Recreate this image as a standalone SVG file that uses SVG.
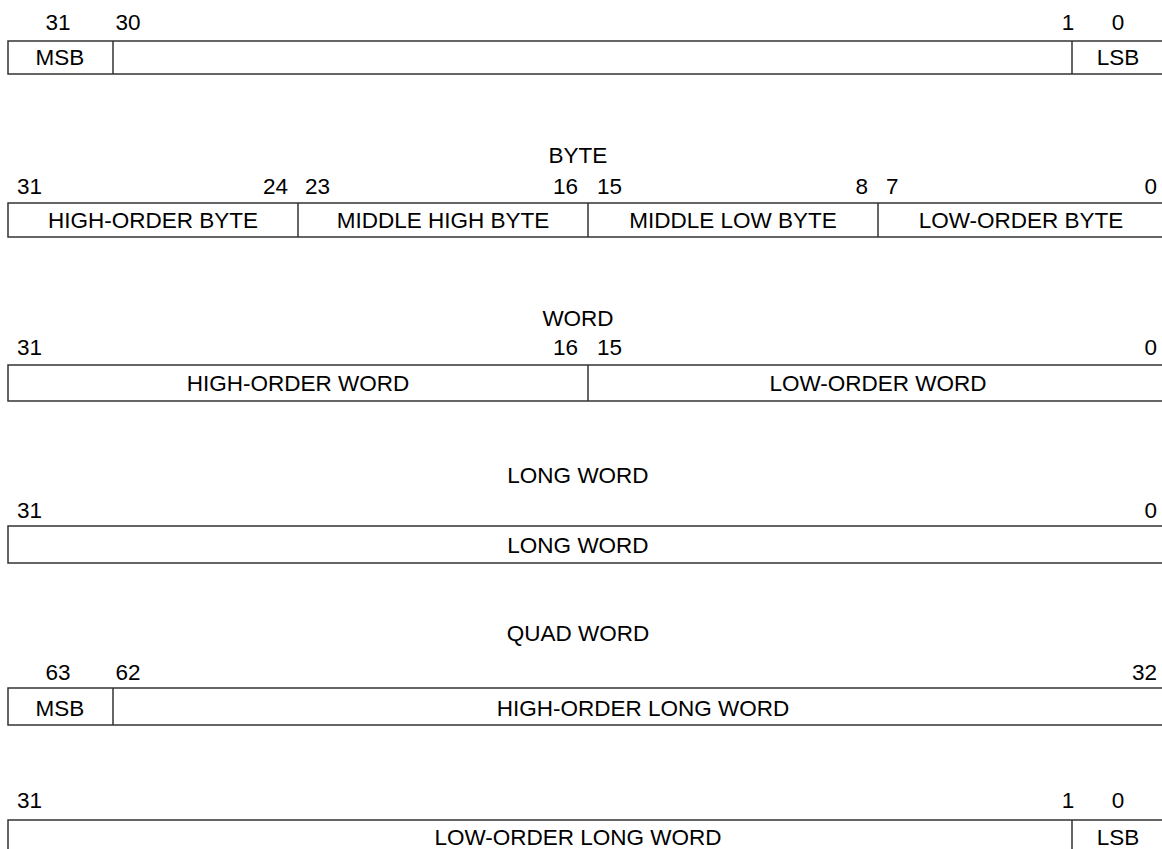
<svg xmlns="http://www.w3.org/2000/svg" width="1162" height="849" viewBox="0 0 1162 849">
<style>
text{font-family:"Liberation Sans",Arial,sans-serif;font-size:22.5px;fill:#000}
.c{text-anchor:middle}
.e{text-anchor:end}
.box{fill:#fff;stroke:#333;stroke-width:1.5}
.div{stroke:#333;stroke-width:1.5}
</style>
<rect width="1162" height="849" fill="#fff"/>
<g id="bit">
<text x="58" y="30" class="c">31</text>
<text x="128" y="30" class="c">30</text>
<text x="1068" y="30" class="c">1</text>
<text x="1118" y="30" class="c">0</text>
<rect class="box" x="8" y="41" width="1160" height="33"/>
<line class="div" x1="113" y1="41" x2="113" y2="74"/>
<line class="div" x1="1072" y1="41" x2="1072" y2="74"/>
<text x="60" y="65" class="c">MSB</text>
<text x="1118" y="65" class="c">LSB</text>
</g>
<g id="byte">
<text x="578" y="163" class="c">BYTE</text>
<text x="17" y="194">31</text>
<text x="288" y="194" class="e">24</text>
<text x="305" y="194">23</text>
<text x="578" y="194" class="e">16</text>
<text x="597" y="194">15</text>
<text x="868" y="194" class="e">8</text>
<text x="886" y="194">7</text>
<text x="1157" y="194" class="e">0</text>
<rect class="box" x="8" y="203" width="1160" height="34"/>
<line class="div" x1="298" y1="203" x2="298" y2="237"/>
<line class="div" x1="588" y1="203" x2="588" y2="237"/>
<line class="div" x1="878" y1="203" x2="878" y2="237"/>
<text x="153" y="228" class="c">HIGH-ORDER BYTE</text>
<text x="443" y="228" class="c">MIDDLE HIGH BYTE</text>
<text x="733" y="228" class="c">MIDDLE LOW BYTE</text>
<text x="1021" y="228" class="c">LOW-ORDER BYTE</text>
</g>
<g id="word">
<text x="578" y="326" class="c">WORD</text>
<text x="17" y="355">31</text>
<text x="578" y="355" class="e">16</text>
<text x="597" y="355">15</text>
<text x="1157" y="355" class="e">0</text>
<rect class="box" x="8" y="365" width="1160" height="36"/>
<line class="div" x1="588" y1="365" x2="588" y2="401"/>
<text x="298" y="391" class="c">HIGH-ORDER WORD</text>
<text x="878" y="391" class="c">LOW-ORDER WORD</text>
</g>
<g id="longword">
<text x="578" y="483" class="c">LONG WORD</text>
<text x="17" y="518">31</text>
<text x="1157" y="518" class="e">0</text>
<rect class="box" x="8" y="526" width="1160" height="37"/>
<text x="578" y="553" class="c">LONG WORD</text>
</g>
<g id="quadword-high">
<text x="578" y="641" class="c">QUAD WORD</text>
<text x="58" y="680" class="c">63</text>
<text x="128" y="680" class="c">62</text>
<text x="1157" y="680" class="e">32</text>
<rect class="box" x="8" y="688" width="1160" height="37"/>
<line class="div" x1="113" y1="688" x2="113" y2="725"/>
<text x="60" y="716" class="c">MSB</text>
<text x="643" y="716" class="c">HIGH-ORDER LONG WORD</text>
</g>
<g id="quadword-low">
<text x="17" y="808">31</text>
<text x="1068" y="808" class="c">1</text>
<text x="1118" y="808" class="c">0</text>
<rect class="box" x="8" y="820" width="1160" height="40"/>
<line class="div" x1="1072" y1="820" x2="1072" y2="860"/>
<text x="578" y="845" class="c">LOW-ORDER LONG WORD</text>
<text x="1118" y="845" class="c">LSB</text>
</g>
<g id="connectors"></g>
</svg>
